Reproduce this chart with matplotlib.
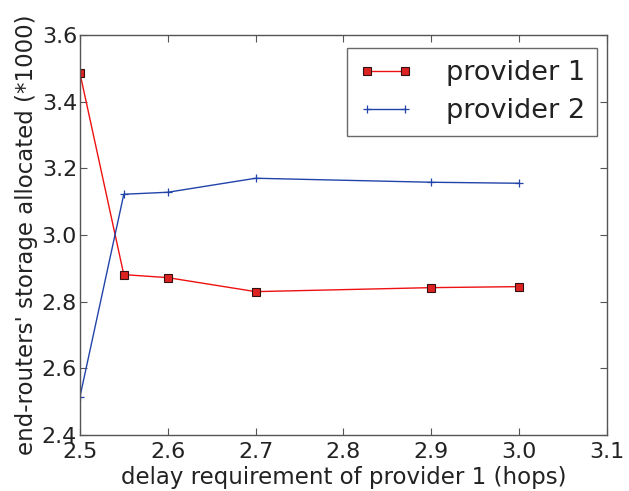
import matplotlib
matplotlib.use("Agg")
import matplotlib.pyplot as plt

delay = [2.5, 2.55, 2.6, 2.7, 2.9, 3.0]
provider1 = [3.486, 2.881, 2.872, 2.830, 2.842, 2.845]
provider2 = [2.514, 3.122, 3.128, 3.170, 3.158, 3.155]
labels = ["provider 1", "provider 2"]
xticks = [2.5, 2.6, 2.7, 2.8, 2.9, 3.0, 3.1]
yticks = [2.4, 2.6, 2.8, 3.0, 3.2, 3.4, 3.6]

txt = "#222222"
fig = plt.figure(figsize=(6.29, 4.91), dpi=100)
ax = fig.add_axes([0.127, 0.114, 0.838, 0.815])
ax.plot(delay, provider1, color="#ee1111", lw=1.0, marker="s", ms=6,
        markerfacecolor="#dd2222", markeredgecolor="#331111", markeredgewidth=0.8,
        label=labels[0])
ax.plot(delay, provider2, color="#2244aa", lw=1.0, marker="+", ms=6,
        markeredgewidth=0.9, label=labels[1])
ax.set_xlim(2.5, 3.1)
ax.set_ylim(2.4, 3.6)
ax.set_xticks(xticks)
ax.set_yticks(yticks)
ax.set_xticklabels([f"{v:.1f}" for v in xticks])
ax.set_yticklabels([f"{v:.1f}" for v in yticks])
ax.tick_params(direction="in", top=True, right=True, length=5, width=0.8,
               labelsize=16, colors="#555555", labelcolor=txt)
ax.tick_params(axis="x", pad=5)
ax.tick_params(axis="y", pad=2)
for s in ax.spines.values():
    s.set_color("#555555")
    s.set_linewidth(1.0)
ax.set_xlabel("delay requirement of provider 1 (hops)", fontsize=16.5, color=txt, labelpad=3)
ax.set_ylabel("end-routers' storage allocated (*1000)", fontsize=16.5, color=txt, labelpad=3)
leg = ax.legend(loc="upper right", fontsize=19.5, numpoints=2, fancybox=False,
                handlelength=2.0, bbox_to_anchor=(0.981, 0.9675), borderaxespad=0.0,
                labelspacing=0.45, handletextpad=1.2, borderpad=0.45)
leg.get_frame().set_edgecolor("#444444")
leg.get_frame().set_linewidth(1.0)
for t in leg.get_texts():
    t.set_color(txt)
fig.savefig("out.png", dpi=100)
